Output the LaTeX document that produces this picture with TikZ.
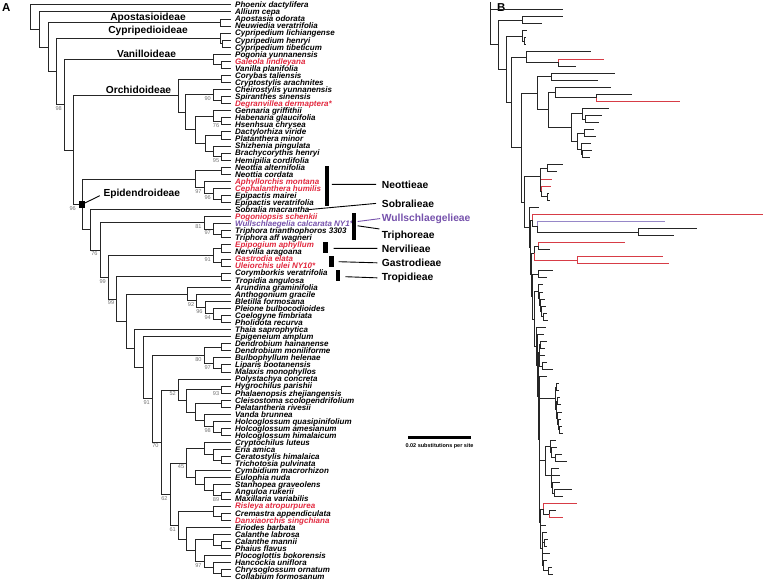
\documentclass[tikz,border=0pt]{standalone}
\usepackage{fontspec}
\setmainfont{Liberation Sans}
\usetikzlibrary{calc}
\definecolor{tred}{RGB}{226,40,62}
\definecolor{tpur}{RGB}{118,82,172}
\definecolor{bpur}{RGB}{150,135,200}
\definecolor{bred}{RGB}{215,60,70}
\colorlet{bk}{black!85}
\newcommand\cld[4]{%
  \coordinate (#1m) at ($(#3)!.5!(#4)$);
  \coordinate (#1x) at (#2,0);
  \coordinate (#1) at (#1m -| #1x);
  \draw[br] (#1) |- (#3);
  \draw[br] (#1) |- (#4);}
\newcommand\cldb[6]{%
  \coordinate (#1m) at ($(#3)!.5!(#4)$);
  \coordinate (#1x) at (#2,0);
  \coordinate (#1) at (#1m -| #1x);
  \draw[bbr,draw=#5] (#1) |- (#3);
  \draw[bbr,draw=#6] (#1) |- (#4);}
\newcommand\bsl[2]{\node[bs] (l#1) at ([xshift=-2.3pt,yshift=-1.8pt]#1) {#2};}
\begin{document}
\begin{tikzpicture}[x=1pt,y=-1pt,
  br/.style={line width=0.8pt, draw=bk},
  bbr/.style={line width=0.7pt},
  tx/.style={font=\fontsize{8}{8}\selectfont\bfseries\itshape, anchor=base west, inner sep=0pt},
  bs/.style={font=\fontsize{5.6}{5.6}\selectfont, text=black!55, anchor=north east, inner sep=0pt},
  sub/.style={font=\fontsize{10.2}{10.2}\selectfont\bfseries, inner sep=0pt},
  trb/.style={font=\fontsize{10.3}{10.3}\selectfont\bfseries, inner sep=0pt, anchor=base west},
  barn/.style={fill=black, inner sep=0pt, minimum width=4.5pt},
  tl/.style={line width=0.9pt}]
\useasboundingbox (0,0) rectangle (763,582);
% ---------- panel letters
\node[font=\fontsize{11.5}{11.5}\selectfont\bfseries, anchor=north west, inner sep=0pt] (labA) at (2,3) {A};
\node[font=\fontsize{11.5}{11.5}\selectfont\bfseries, anchor=north west, inner sep=0pt] (labB) at (497,3) {B};
% ---------- tips of A
\foreach \n/\c [count=\i] in {Phoenix dactylifera/black, Allium cepa/black, Apostasia odorata/black, Neuwiedia veratrifolia/black, Cypripedium lichiangense/black, Cypripedium henryi/black, Cypripedium tibeticum/black, Pogonia yunnanensis/black, Galeola lindleyana/tred, Vanilla planifolia/black, Corybas taliensis/black, Cryptostylis arachnites/black, Cheirostylis yunnanensis/black, Spiranthes sinensis/black, Degranvillea dermaptera*/tred, Gennaria griffithii/black, Habenaria glaucifolia/black, Hsenhsua chrysea/black, Dactylorhiza viride/black, Platanthera minor/black, Shizhenia pingulata/black, Brachycorythis henryi/black, Hemipilia cordifolia/black, Neottia alternifolia/black, Neottia cordata/black, Aphyllorchis montana/tred, Cephalanthera humilis/tred, Epipactis mairei/black, Epipactis veratrifolia/black, Sobralia macrantha/black, Pogoniopsis schenkii/tred, Wullschlaegelia calcarata NY1*/tpur, Triphora trianthophoros 3303/black, Triphora aff wagneri/black, Epipogium aphyllum/tred, Nervilia aragoana/black, Gastrodia elata/tred, Uleiorchis ulei NY10*/tred, Corymborkis veratrifolia/black, Tropidia angulosa/black, Arundina graminifolia/black, Anthogonium gracile/black, Bletilla formosana/black, Pleione bulbocodioides/black, Coelogyne fimbriata/black, Pholidota recurva/black, Thaia saprophytica/black, Epigeneium amplum/black, Dendrobium hainanense/black, Dendrobium moniliforme/black, Bulbophyllum helenae/black, Liparis bootanensis/black, Malaxis monophyllos/black, Polystachya concreta/black, Hygrochilus parishii/black, Phalaenopsis zhejiangensis/black, Cleisostoma scolopendrifolium/black, Pelatantheria rivesii/black, Vanda brunnea/black, Holcoglossum quasipinifolium/black, Holcoglossum amesianum/black, Holcoglossum himalaicum/black, Cryptochilus luteus/black, Eria amica/black, Ceratostylis himalaica/black, Trichotosia pulvinata/black, Cymbidium macrorhizon/black, Eulophia nuda/black, Stanhopea graveolens/black, Anguloa rukerii/black, Maxillaria variabilis/black, Risleya atropurpurea/tred, Cremastra appendiculata/black, Danxiaorchis singchiana/tred, Eriodes barbata/black, Calanthe labrosa/black, Calanthe mannii/black, Phaius flavus/black, Plocoglottis bokorensis/black, Hancockia uniflora/black, Chrysoglossum ornatum/black, Collabium formosanum/black}
{
  \coordinate (a\i) at (231,{4.8+(\i-1)*7.06});
  \node[tx, text=\c] (ta\i) at (235,{7.7+(\i-1)*7.06}) {\n};
}
% ---------- internal nodes of A
\cld{AAp}{220}{a3}{a4}
\cld{ACy2}{222}{a6}{a7}
\cld{ACy}{220}{a5}{ACy2}
\cld{AVa2}{221.7}{a9}{a10}
\cld{AVa}{213.3}{a8}{AVa2}
\cld{AOc}{221.7}{a11}{a12}
\cld{ASd}{221.7}{a14}{a15}
\cld{ACh}{213.3}{a13}{ASd}
\cld{AHh}{221.7}{a17}{a18}
\cld{AGn}{213.3}{a16}{AHh}
\cld{ADl}{221.7}{a19}{a20}
\cld{ABh}{221.7}{a22}{a23}
\cld{ASb}{213.3}{a21}{ABh}
\cld{ADp}{205}{ADl}{ASb}
\cld{AO3}{195}{AGn}{ADp}
\cld{AO2}{185.7}{ACh}{AO3}
\cld{AO}{178.3}{AOc}{AO2}
\cld{ANn}{221.7}{a24}{a25}
\cld{AEp}{221.7}{a28}{a29}
\cld{ACe}{213.3}{a27}{AEp}
\cld{AAp1}{204}{a26}{ACe}
\cld{ANe}{195}{ANn}{AAp1}
\cld{ATr}{221.7}{a33}{a34}
\cld{AT2}{213.3}{a32}{ATr}
\cld{ATg}{204}{a31}{AT2}
\cld{AEn}{221.7}{a35}{a36}
\cld{AGu}{221.7}{a37}{a38}
\cld{ANg}{213.3}{AEn}{AGu}
\cld{ATp}{221.7}{a39}{a40}
\cld{AAg5}{221.7}{a45}{a46}
\cld{AAg4}{213.3}{a44}{AAg5}
\cld{AAg3}{205}{a43}{AAg4}
\cld{AAg2}{196.7}{a42}{AAg3}
\cld{AAg}{187.7}{a41}{AAg2}
\cld{ADd}{221.7}{a49}{a50}
\cld{ALm}{221.7}{a52}{a53}
\cld{ABu}{213.3}{a51}{ALm}
\cld{ADg}{204}{ADd}{ABu}
\cld{AHp}{221.7}{a55}{a56}
\cld{ACp}{221.7}{a57}{a58}
\cld{AHo2}{221.7}{a61}{a62}
\cld{AHo}{213.3}{a60}{AHo2}
\cld{AV3}{204}{a59}{AHo}
\cld{AV2}{195}{ACp}{AV3}
\cld{AV1}{186.7}{AHp}{AV2}
\cld{AV0}{178.3}{a54}{AV1}
\cld{ACt}{221.7}{a65}{a66}
\cld{AEr}{213.3}{a64}{ACt}
\cld{ACr}{204}{a63}{AEr}
\cld{AAm}{221.7}{a70}{a71}
\cld{ASt}{213.3}{a69}{AAm}
\cld{AEu}{204}{a68}{ASt}
\cld{ACm}{195}{a67}{AEu}
\cld{AC2}{186.7}{ACr}{ACm}
\cld{ACd}{221.7}{a73}{a74}
\cld{ARg}{213.3}{a72}{ACd}
\cld{ACl2}{221.7}{a77}{a78}
\cld{ACl}{213.3}{a76}{ACl2}
\cld{APl3}{221.7}{a81}{a82}
\cld{APl2}{213.3}{a80}{APl3}
\cld{APl}{204}{a79}{APl2}
\cld{AEr2}{195}{ACl}{APl}
\cld{AEr0}{186.7}{a75}{AEr2}
\cld{AC5}{178.3}{ARg}{AEr0}
\cld{AC1}{170}{AC2}{AC5}
\cld{AE10}{161}{AV0}{AC1}
\cld{AE9}{152.3}{ADg}{AE10}
\cld{AE8}{143.3}{a48}{AE9}
\cld{AE7}{134.3}{a47}{AE8}
\cld{AE6}{126}{AAg}{AE7}
\cld{AE5}{116.7}{ATp}{AE6}
\cld{AE4}{108.3}{ANg}{AE5}
\cld{AE3}{100}{ATg}{AE4}
\cld{AE2}{90.7}{a30}{AE3}
\cld{AE}{82}{ANe}{AE2}
\cld{AN6}{73.3}{AO}{AE}
\cld{AN5}{64.3}{AVa}{AN6}
\cld{AN4}{56.7}{ACy}{AN5}
\cld{AN3}{48.3}{AAp}{AN4}
\cld{AN2}{39.3}{a2}{AN3}
\cld{AR}{30}{a1}{AN2}
% ---------- support values
\bsl{AN5}{98}\bsl{ACh}{90}\bsl{AHh}{76}\bsl{ABh}{95}\bsl{AAp1}{97}\bsl{ACe}{96}
\node[bs] (lAE) at ([xshift=-6pt,yshift=-2.2pt]AE) {96};
\bsl{ATg}{81}\bsl{AT2}{97}\bsl{AE3}{76}\bsl{ANg}{91}\bsl{AE4}{99}\bsl{AE5}{99}
\bsl{AAg2}{92}\bsl{AAg3}{96}\bsl{AAg4}{94}\bsl{ADg}{80}\bsl{ABu}{97}\bsl{AE9}{91}
\bsl{AV0}{52}\bsl{AHp}{93}\bsl{AHo}{98}\bsl{AE10}{70}\bsl{AC2}{45}\bsl{AAm}{89}
\bsl{AC1}{62}\bsl{AC5}{61}\bsl{APl}{97}
% ---------- subfamily labels
\node[sub, anchor=base] (lApo) at (148,20.3) {Apostasioideae};
\node[sub, anchor=base] (lCyp) at (148,33) {Cypripedioideae};
\node[sub, anchor=base] (lVan) at (146.5,57) {Vanilloideae};
\node[sub, anchor=base] (lOrc) at (138.5,93) {Orchidoideae};
\node[sub, anchor=base west] (lEpi) at (103.3,196.5) {Epidendroideae};
\node[fill=black, minimum size=6.5pt, inner sep=0pt] (sq) at (AE) {};
\draw[tl] (sq.center) -- ($(lEpi.west)+(-3.5,1.8)$);
% ---------- tribes
\node[barn, minimum height=39.7pt] (barNe) at (326.8,185.85) {};
\node[barn, minimum height=26.7pt] (barTr) at (353.85,226.65) {};
\node[barn, minimum height=11pt] (barNv) at (325.5,247.2) {};
\node[barn, minimum height=11pt] (barGa) at (331.5,261.2) {};
\node[barn, minimum height=10.7pt] (barTp) at (337.85,275.35) {};
\node[trb] (lNeo) at (381.7,188.1) {Neottieae};
\node[trb] (lSob) at (381.7,207.1) {Sobralieae};
\node[trb, text=tpur] (lWul) at (381.7,221.2) {Wullschlaegelieae};
\node[trb] (lTri) at (381.7,238.1) {Triphoreae};
\node[trb] (lNer) at (381.7,252.1) {Nervilieae};
\node[trb] (lGas) at (381.7,266.5) {Gastrodieae};
\node[trb] (lTro) at (381.7,280.5) {Tropidieae};
\draw[tl] ([xshift=2.5pt,yshift=1.5pt]barNe.east) -- ([xshift=-5.7pt]lNeo.west);
\draw[tl] ([xshift=-1pt]ta30.east) -- ([xshift=-5.7pt]lSob.west);
\draw[tl, draw=tpur] ([xshift=1.3pt,yshift=-8.4pt]barTr.north east) -- ([xshift=-1.5pt]lWul.west);
\draw[tl] ([xshift=1.3pt,yshift=-12.7pt]barTr.north east) -- ([xshift=-2.4pt,yshift=1.5pt]lTri.north west);
\draw[tl] ([xshift=5.6pt,yshift=-1.1pt]barNv.east) -- ([xshift=-4.4pt]lNer.west);
\draw[tl] ([xshift=4.6pt,yshift=-0.5pt]barGa.east) -- ([xshift=-4.4pt]lGas.west);
\draw[tl] ([xshift=5pt,yshift=-1.35pt]barTp.east) -- ([xshift=-4.4pt]lTro.west);
% ---------- scale bar
\node[fill=black, inner sep=0pt, minimum width=63pt, minimum height=3pt] (sbar) at (439.5,437) {};
\node[font=\fontsize{5.5}{5.5}\selectfont\bfseries, anchor=north, inner sep=0pt] (sbtxt) at ([yshift=-5pt]sbar.south) {0.02 substitutions per site};
% ---------- tips of B
\foreach \xe [count=\i] in {490,563.3,563.3,541.7,526.7,526,526.3,591,604.3,575.7,615,598.3,610.7,632.3,680,609,601.7,599.3,594,596,591,591.7,590,562.7,556.7,551.7,551,549.3,550,539.3,763,665,696.7,674.3,625,550,663.3,669.3,553.3,547.3,543.3,543,545,546,547,548.3,546,544,547.3,545,545,546.7,552.7,547.3,559.3,559.3,560,561,562,561,561.7,562.7,556,557.3,561.7,566.7,559.3,560,560,572.3,562.7,577.3,556,563.3,546,546.7,548.3,546.7,550,547.3,551.7,552.7}
{ \coordinate (b\i) at (\xe,{2.4+(\i-1)*7.06}); }
% ---------- internal nodes of B
\cldb{BAp}{522.3}{b3}{b4}{bk}{bk}
\cldb{BCy2}{524}{b6}{b7}{bk}{bk}
\cldb{BCy}{522.3}{b5}{BCy2}{bk}{bk}
\cldb{BVa2}{558.3}{b9}{b10}{bred}{bk}
\cldb{BVa}{526.7}{b8}{BVa2}{bk}{bk}
\cldb{BOc}{551.7}{b11}{b12}{bk}{bk}
\cldb{BSd}{596.7}{b14}{b15}{bk}{bred}
\cldb{BCh}{555}{b13}{BSd}{bk}{bk}
\cldb{BHh}{585}{b17}{b18}{bk}{bk}
\cldb{BGn}{582.7}{b16}{BHh}{bk}{bk}
\cldb{BDl}{584}{b19}{b20}{bk}{bk}
\cldb{BBh}{582.7}{b22}{b23}{bk}{bk}
\cldb{BSb}{581.7}{b21}{BBh}{bk}{bk}
\cldb{BDp}{577.3}{BDl}{BSb}{bk}{bk}
\cldb{BO3}{571.7}{BGn}{BDp}{bk}{bk}
\cldb{BO2}{548.3}{BCh}{BO3}{bk}{bk}
\cldb{BO}{537.7}{BOc}{BO2}{bk}{bk}
\cldb{BNn}{547.3}{b24}{b25}{bk}{bk}
\cldb{BEp}{547.3}{b28}{b29}{bk}{bk}
\cldb{BCe}{541.7}{b27}{BEp}{bred}{bk}
\cldb{BAp1}{540.7}{b26}{BCe}{bred}{bk}
\cldb{BNe}{540.7}{BNn}{BAp1}{bk}{bk}
\cldb{BTr}{638.3}{b33}{b34}{bk}{bk}
\cldb{BT2}{537.7}{b32}{BTr}{bpur}{bk}
\cldb{BTg}{532.3}{b31}{BT2}{bred}{bk}
\cldb{BEn}{538.3}{b35}{b36}{bred}{bk}
\cldb{BGu}{577.3}{b37}{b38}{bred}{bred}
\cldb{BNg}{534.3}{BEn}{BGu}{bk}{bred}
\cldb{BTp}{538.3}{b39}{b40}{bk}{bk}
\cldb{BAg5}{543}{b45}{b46}{bk}{bk}
\cldb{BAg4}{541}{b44}{BAg5}{bk}{bk}
\cldb{BAg3}{540}{b43}{BAg4}{bk}{bk}
\cldb{BAg2}{539}{b42}{BAg3}{bk}{bk}
\cldb{BAg}{538}{b41}{BAg2}{bk}{bk}
\cldb{BDd}{540}{b49}{b50}{bk}{bk}
\cldb{BLm}{542.7}{b52}{b53}{bk}{bk}
\cldb{BBu}{539.3}{b51}{BLm}{bk}{bk}
\cldb{BDg}{539}{BDd}{BBu}{bk}{bk}
\cldb{BHp}{556.7}{b55}{b56}{bk}{bk}
\cldb{BCp}{557.3}{b57}{b58}{bk}{bk}
\cldb{BHo2}{559.3}{b61}{b62}{bk}{bk}
\cldb{BHo}{558.7}{b60}{BHo2}{bk}{bk}
\cldb{BV3}{557.7}{b59}{BHo}{bk}{bk}
\cldb{BV2}{556.7}{BCp}{BV3}{bk}{bk}
\cldb{BV1}{555.7}{BHp}{BV2}{bk}{bk}
\cldb{BV0}{539.3}{b54}{BV1}{bk}{bk}
\cldb{BCt}{555}{b65}{b66}{bk}{bk}
\cldb{BEr}{551.7}{b64}{BCt}{bk}{bk}
\cldb{BCr}{550.7}{b63}{BEr}{bk}{bk}
\cldb{BAm}{554.3}{b70}{b71}{bk}{bk}
\cldb{BSt}{552.7}{b69}{BAm}{bk}{bk}
\cldb{BEu}{551.7}{b68}{BSt}{bk}{bk}
\cldb{BCm}{551.7}{b67}{BEu}{bk}{bk}
\cldb{BC2}{545}{BCr}{BCm}{bk}{bk}
\cldb{BCd}{549.3}{b73}{b74}{bk}{bred}
\cldb{BRg}{543.3}{b72}{BCd}{bred}{bk}
\cldb{BCl2}{544}{b77}{b78}{bk}{bk}
\cldb{BCl}{542.7}{b76}{BCl2}{bk}{bk}
\cldb{BPl3}{548.3}{b81}{b82}{bk}{bk}
\cldb{BPl2}{543.3}{b80}{BPl3}{bk}{bk}
\cldb{BPl}{542.7}{b79}{BPl2}{bk}{bk}
\cldb{BEr2}{542}{BCl}{BPl}{bk}{bk}
\cldb{BEr0}{540.7}{b75}{BEr2}{bk}{bk}
\cldb{BC5}{540}{BRg}{BEr0}{bk}{bk}
\cldb{BC1}{539.5}{BC2}{BC5}{bk}{bk}
\cldb{BE10}{539}{BV0}{BC1}{bk}{bk}
\cldb{BE9}{538}{BDg}{BE10}{bk}{bk}
\cldb{BE8}{537}{b48}{BE9}{bk}{bk}
\cldb{BE7}{536}{b47}{BE8}{bk}{bk}
\cldb{BE6}{534}{BAg}{BE7}{bk}{bk}
\cldb{BE5}{532.5}{BTp}{BE6}{bk}{bk}
\cldb{BE4}{531.5}{BNg}{BE5}{bk}{bk}
\cldb{BE3}{530.5}{BTg}{BE4}{bk}{bk}
\cldb{BE2}{529.3}{b30}{BE3}{bk}{bk}
\cldb{BE}{524.3}{BNe}{BE2}{bk}{bk}
\cldb{BN6}{521.7}{BO}{BE}{bk}{bk}
\cldb{BN5}{511}{BVa}{BN6}{bk}{bk}
\cldb{BN4}{506}{BCy}{BN5}{bk}{bk}
\cldb{BN3}{498.3}{BAp}{BN4}{bk}{bk}
\cldb{BN2}{490}{b2}{BN3}{bk}{bk}
\cldb{BR}{490}{b1}{BN2}{bk}{bk}
\end{tikzpicture}
\end{document}
